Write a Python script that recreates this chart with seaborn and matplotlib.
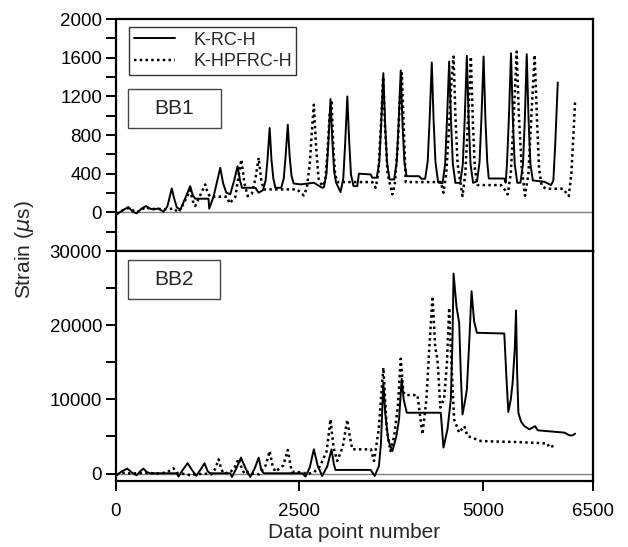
import matplotlib
matplotlib.use("Agg")
import matplotlib.pyplot as plt
import seaborn as sns
from matplotlib.patches import Rectangle

# ---------------- data ----------------
series_labels = ["K-RC-H", "K-HPFRC-H"]
panel_labels = ["BB1", "BB2"]

bb1_rc_x = [9, 90, 168, 230, 282, 350, 410, 460, 510, 578, 646, 700, 735, 760, 790, 829, 878, 940,
            1011, 1045, 1079, 1261, 1270, 1329, 1380, 1421, 1460, 1503, 1557, 1610, 1657, 1690, 1717,
            1899, 1944,
            2004, 2039, 2064, 2094, 2119, 2144, 2172,
            2251, 2286, 2311, 2341, 2366, 2391, 2420, 2514, 2696, 2810,
            2833, 2868, 2893, 2923, 2948, 2973, 2998, 3060,
            3097, 3122, 3152, 3177, 3202, 3237, 3288, 3310, 3470, 3493, 3553,
            3588, 3613, 3643, 3668, 3693, 3728, 3790,
            3825, 3850, 3880, 3905, 3930, 3960, 4130, 4162, 4213,
            4248, 4273, 4303, 4328, 4353, 4390, 4450,
            4485, 4510, 4540, 4565, 4590, 4625, 4691,
            4726, 4751, 4781, 4806, 4831, 4866, 4919,
            4954, 4979, 5009, 5034, 5059, 5080, 5291, 5310,
            5328, 5353, 5383, 5408, 5433, 5468, 5511,
            5546, 5571, 5597, 5622, 5647, 5680, 5838, 5880, 5929, 5960, 5985, 6020]
bb1_rc_y = [-20, 20, 55, 5, -10, 40, 65, 40, 30, 40, 7, 60, 170, 247, 150, 50, 30, 140,
            271, 180, 141, 141, 38, 162, 330, 461, 300, 203, 187, 330, 477, 330, 254,
            254, 203,
            230, 330, 540, 873, 540, 350, 254,
            254, 350, 580, 907, 580, 380, 299, 289, 306, 254,
            260, 400, 700, 1172, 740, 420, 310, 209,
            350, 700, 1199, 740, 390, 271, 271, 400, 392, 358, 358,
            520, 900, 1440, 900, 520, 340, 340,
            520, 900, 1467, 900, 520, 374, 374, 347, 347,
            530, 950, 1550, 950, 520, 310, 300,
            500, 950, 1560, 950, 500, 305, 305,
            500, 950, 1619, 950, 500, 305, 320,
            520, 960, 1612, 960, 520, 350, 350, 306,
            500, 960, 1646, 960, 500, 306, 306,
            500, 960, 1635, 960, 500, 330, 316, 300, 282, 330, 700, 1343]

bb1_hp_x = [9, 100, 168, 282, 410, 460, 578, 700, 783, 851, 900, 960, 1011, 1045, 1079, 1150, 1216,
            1250, 1284, 1512, 1548, 1626, 1665, 1708, 1750, 1794, 1850, 1900, 1944, 1980, 2013, 2468,
            2559, 2600, 2640, 2670, 2696, 2725, 2760, 2810, 2850, 2880, 2910, 2937, 2960, 2985, 3015,
            3493, 3538, 3575, 3610, 3640, 3665, 3700, 3766, 3800, 3840, 3870, 3895, 3920, 3948, 4426,
            4462, 4500, 4540, 4570, 4600, 4625, 4655, 4722, 4760, 4800, 4836, 4860, 4890, 4927, 5246,
            5300, 5337, 5380, 5420, 5460, 5490, 5530, 5574, 5620, 5660, 5705, 5735, 5765, 5800, 5860,
            6091, 6170, 6205, 6240, 6257]
bb1_hp_y = [-15, 25, 45, 0, 55, 35, 35, 30, 41, 0, 60, 150, 230, 120, 65, 180, 289,
            200, 162, 162, 93, 160, 350, 546, 300, 168, 190, 350, 564, 330, 237, 237,
            175, 250, 500, 850, 1113, 700, 350, 271, 320, 600, 1000, 1160, 700, 400, 313,
            313, 254, 400, 900, 1400, 900, 400, 186, 300, 700, 1200, 1440, 900, 313, 313,
            203, 400, 900, 1350, 1611, 1000, 500, 168, 400, 1000, 1611, 1000, 450, 282, 282,
            230, 185, 400, 1000, 1663, 1000, 450, 172, 400, 1000, 1629, 1000, 450, 275, 244,
            244, 168, 400, 900, 1165]

bb2_rc_x = [9, 80, 154, 220, 282, 330, 373, 420, 464, 829, 851, 910, 975, 1035, 1093, 1150, 1206, 1250,
            1284, 1557, 1580, 1640, 1703, 1765, 1830, 1890, 1944, 1980, 2013, 2537, 2582, 2640, 2696,
            2750, 2810, 2880, 2937, 2970, 2992, 3470, 3525, 3583, 3610, 3643, 3670, 3710, 3766, 3820,
            3857, 3893, 3920, 3962, 4426, 4462, 4517, 4563, 4585, 4600, 4640, 4676, 4700, 4722, 4760,
            4781, 4815, 4845, 4880, 4918, 5291, 5320, 5346, 5380, 5405, 5435, 5451, 5465, 5483, 5520,
            5565, 5633, 5710, 5747, 5900, 6111, 6180, 6220, 6257]
bb2_rc_y = [-230, 300, 670, 100, -230, 300, 670, 200, 40, 40, -400, 500, 1390, 500, -300, 500, 1390, 300,
            40, 40, -450, 700, 2150, 700, -450, 700, 2150, 500, 40, 40, -400, 800, 3270,
            1000, -320, 1000, 3270, 1200, 490, 490, -320, 1020, 4000, 12250, 8000, 4500, 3040, 5000,
            7300, 12790, 10000, 8200, 8200, 3500, 5960, 10000, 18000, 26960, 22500, 20320, 13000, 7980, 10000,
            11350, 18000, 24580, 20500, 18980, 18880, 13000, 8300, 10000, 12250, 17000, 21980, 14000, 8200, 7000,
            6400, 5960, 6400, 5830, 5700, 5520, 5150, 5150, 5380]

bb2_hp_x = [9, 100, 200, 400, 600, 700, 783, 830, 900, 1000, 1100, 1200, 1300, 1350, 1398, 1435, 1466,
            1560, 1620, 1671, 1720, 1760, 1800, 1850, 1950, 2040, 2094, 2135, 2172, 2280, 2341, 2380,
            2400, 2513, 2560, 2600, 2700, 2780, 2870, 2923, 2965, 3015, 3090, 3151, 3190, 3220, 3474,
            3516, 3580, 3643, 3690, 3740, 3790, 3840, 3880, 3915, 3948, 4108, 4176, 4230, 4270, 4313,
            4350, 4381, 4420, 4470, 4510, 4540, 4575, 4608, 4676, 4745, 4790, 4973, 5246, 5474, 5792,
            5880, 5906, 5974]
bb2_hp_y = [-100, 100, 0, 100, 0, 200, 710, 100, 0, -200, -100, 0, -100, 600, 1920, 600, 0,
            200, 900, 2020, 500, -100, 200, 0, -100, 1100, 3040, 1000, 250, 1100, 3180, 1000,
            250, 170, 100, -100, 200, 1000, 3000, 7310, 3500, 1700, 3600, 7260, 4800, 3270, 3270,
            1700, 6000, 14270, 6000, 3040, 5000, 9000, 15480, 11000, 10580, 10580, 5290, 10000, 17000, 23900,
            17000, 15380, 8900, 10000, 15000, 22340, 14000, 7300, 5520, 6400, 5060, 4390, 4300, 4250, 4100,
            4050, 3500, 3800]

x_ticks = [0, 2500, 5000, 6500]
bb1_ticks = [0, 400, 800, 1200, 1600, 2000]
bb2_ticks = [0, 10000, 20000, 30000]

# ---------------- style ----------------
sns.set_theme(style="ticks")
plt.rcParams["font.family"] = ["Liberation Sans", "DejaVu Sans"]
plt.rcParams["mathtext.fontset"] = "dejavusans"

fig = plt.figure(figsize=(6.28, 5.47), dpi=100)
L, R = 116 / 628, 593 / 628
ax1 = fig.add_axes([L, 1 - 251 / 547, R - L, (251 - 19) / 547])
ax2 = fig.add_axes([L, 1 - 481 / 547, R - L, (481 - 251) / 547], sharex=ax1)

lw = 1.4
for ax, (xa, ya), (xb, yb) in [
    (ax1, (bb1_rc_x, bb1_rc_y), (bb1_hp_x, bb1_hp_y)),
    (ax2, (bb2_rc_x, bb2_rc_y), (bb2_hp_x, bb2_hp_y)),
]:
    ax.axhline(0, color="#808080", lw=1.0, zorder=1)
    sns.lineplot(x=xa, y=ya, ax=ax, color="black", lw=lw, sort=False, estimator=None,
                 label=series_labels[0], legend=False, zorder=3)
    sns.lineplot(x=xb, y=yb, ax=ax, color="black", lw=lw + 0.4, linestyle=(0, (1, 1.3)),
                 sort=False, estimator=None, label=series_labels[1], legend=False, zorder=3)
    for s in ax.spines.values():
        s.set_linewidth(1.6)
        s.set_color("black")
    ax.set_xlabel("")
    ax.set_ylabel("")

ax1.set_xlim(0, 6500)
ax1.set_ylim(-400, 2000)
ax1.set_yticks(bb1_ticks)
ax1.set_yticks(list(range(-400, 2001, 200)), minor=True)
ax1.tick_params(axis="x", which="both", bottom=False, labelbottom=False)

ax2.set_ylim(-1000, 30000)
ax2.set_yticks(bb2_ticks)
ax2.set_yticks(list(range(0, 30001, 5000)), minor=True)
ax2.set_xticks(x_ticks)
ax2.set_xticklabels([str(t) for t in x_ticks])

for ax in (ax1, ax2):
    ax.tick_params(axis="both", which="both", direction="out", length=7, width=1.4,
                   colors="black", labelsize=13.5, pad=3)
ax2.tick_params(axis="x", which="major", pad=9)

ax2.set_xlabel("Data point number", fontsize=15, labelpad=2)
fig.text(25 / 628, 1 - 250 / 547, r"Strain ($\mu$s)", rotation=90, fontsize=15,
         ha="center", va="center")

# legend
handles, labels = ax1.get_legend_handles_labels()
leg = fig.legend(handles[:2], labels[:2], loc="upper left",
                 bbox_to_anchor=(129 / 628, 1 - 27 / 547), fontsize=13,
                 frameon=True, fancybox=False, edgecolor="#333333", framealpha=1,
                 handlelength=2.3, handletextpad=1.0, labelspacing=0.25,
                 borderpad=0.25, borderaxespad=0)
leg.get_frame().set_linewidth(1.0)

# panel labels
for ax, txt, (x0, y0, w, h) in [
    (ax1, panel_labels[0], (0.025, 0.530, 0.195, 0.168)),
    (ax2, panel_labels[1], (0.025, 0.791, 0.193, 0.170)),
]:
    ax.add_patch(Rectangle((x0, y0), w, h, transform=ax.transAxes, fill=True,
                           facecolor="white", edgecolor="#444444", lw=1.0, zorder=5))
    ax.text(x0 + w / 2, y0 + h / 2, txt, transform=ax.transAxes, ha="center",
            va="center", fontsize=15, zorder=6)

fig.savefig("out.png", dpi=100)
